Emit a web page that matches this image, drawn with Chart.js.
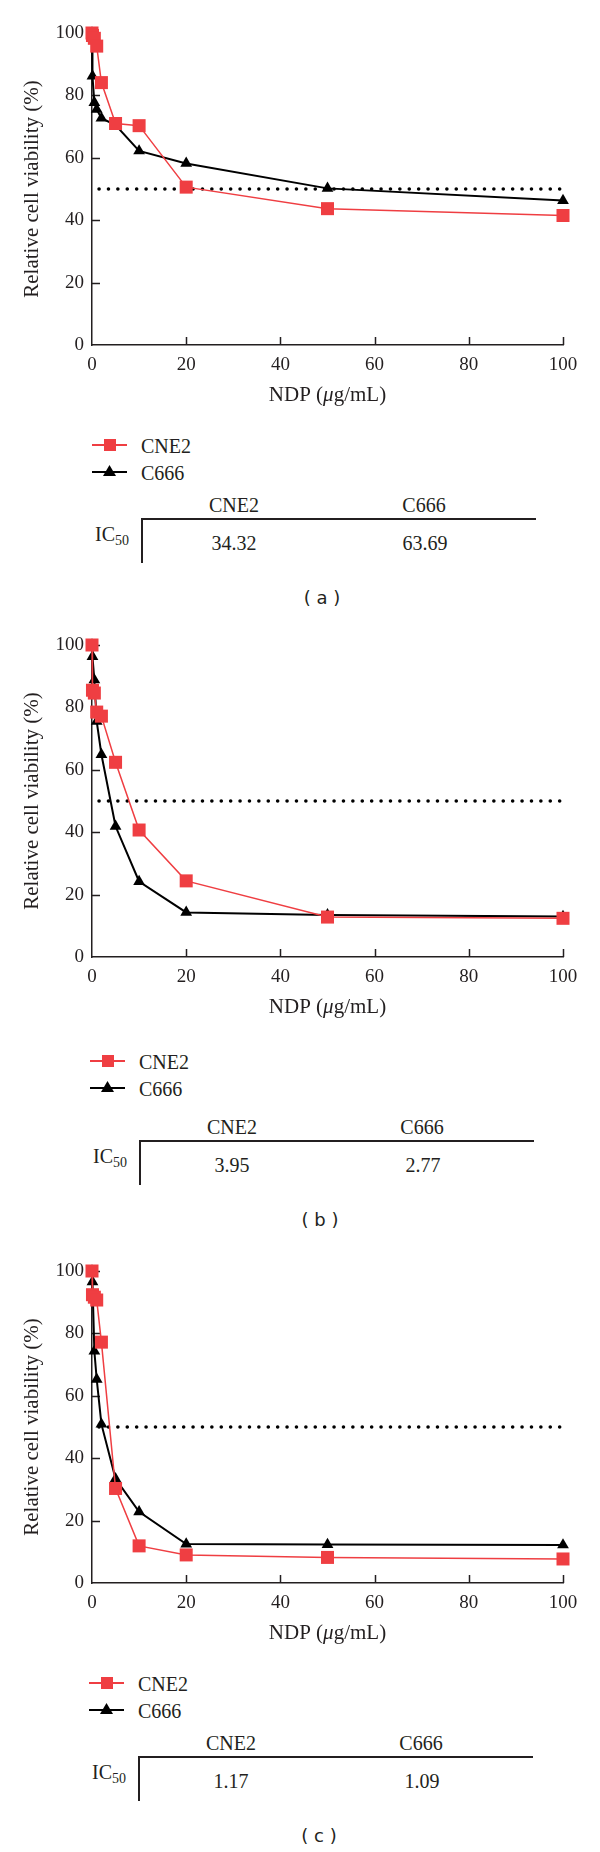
<!DOCTYPE html>
<html>
<head>
<meta charset="utf-8">
<script src="https://cdn.jsdelivr.net/npm/chart.js@4.4.0/dist/chart.umd.min.js"></script>
<style>
  html, body { margin: 0; padding: 0; background: #fff; }
  body { width: 600px; height: 1852px; position: relative; overflow: hidden;
         font-family: "Liberation Serif", "DejaVu Serif", serif; color: #231f20; }
  .panel { position: absolute; left: 0; width: 600px; height: 620px; }
  .panel canvas { position: absolute; left: 0; top: 0; }
  .t { position: absolute; white-space: nowrap; line-height: 1; transform: translate(-50%, -50%); }
  .tl { position: absolute; white-space: nowrap; line-height: 1; transform: translate(0, -50%); }
  .leg { font-size: 20px; }
  .hd { font-size: 20px; }
  .ic sub { font-size: 14px; vertical-align: -4px; }
  .cap { font-family: "DejaVu Sans", sans-serif; font-size: 18px; }
  .hline { position: absolute; height: 2px; background: #231f20; }
  .vline { position: absolute; width: 2px; background: #231f20; }
</style>
</head>
<body>
<div id="wrap"></div>
<script>
// concentrations of NDP (ug/mL)
const doses = [0, 0.1, 0.5, 1, 2, 5, 10, 20, 50, 100];

// panel (a)
const cne2A = [100, 99.2, 98.3, 95.8, 84.1, 71.0, 70.3, 50.6, 43.7, 41.5];
const c666A = [100, 86.2, 77.7, 75.5, 72.7, 70.5, 62.2, 58.2, 50.2, 46.3];
// panel (b)
const cne2B = [100, 85.5, 84.6, 78.5, 77.2, 62.4, 40.7, 24.4, 12.8, 12.4];
const c666B = [100, 96.3, 88.8, 75.5, 64.9, 41.9, 24.2, 14.3, 13.5, 13.0];
// panel (c)
const cne2C = [100, 92.4, 91.6, 90.7, 77.2, 30.3, 11.9, 9.0, 8.2, 7.7];
const c666C = [100, 96.5, 74.3, 65.3, 50.9, 33.4, 22.8, 12.5, 12.3, 12.2];

const ic50Names = ['CNE2', 'C666'];
const ic50A = ['34.32', '63.69'];
const ic50B = ['3.95', '2.77'];
const ic50C = ['1.17', '1.09'];

// 50% reference line
const halfX = [1.5, 100];
const halfY = 50;

const xTicks = [0, 20, 40, 60, 80, 100];
const yTicks = [0, 20, 40, 60, 80, 100];

const RED = '#ef3e42';
const INK = '#231f20';

const innerTicks = {
    id: 'innerTicks',
    beforeDatasetsDraw(chart) {
        const ctx = chart.ctx;
        const { left, bottom } = chart.chartArea;
        const xs = chart.scales.x, ys = chart.scales.y;
        ctx.save();
        ctx.strokeStyle = INK;
        ctx.lineWidth = 1.5;
        ctx.beginPath();
        xTicks.forEach(v => {
            if (v === 0) return;
            const px = Math.round(xs.getPixelForValue(v)) + 0.5;
            ctx.moveTo(px, bottom);
            ctx.lineTo(px, bottom - 8);
        });
        yTicks.forEach(v => {
            if (v === 0) return;
            const py = Math.round(ys.getPixelForValue(v)) + 0.5;
            ctx.moveTo(left, py);
            ctx.lineTo(left + 8, py);
        });
        ctx.stroke();
        ctx.restore();
    },
    afterDraw(chart) {
        // axis titles (mu in italics)
        const ctx = chart.ctx;
        const { left, right, top, bottom } = chart.chartArea;
        ctx.save();
        ctx.fillStyle = INK;
        ctx.textBaseline = 'middle';
        const parts = [['NDP (', ''], ['\u03bc', 'italic '], ['g/mL)', '']];
        let total = 0;
        parts.forEach(p => { ctx.font = p[1] + '21px "Liberation Serif"'; total += ctx.measureText(p[0]).width; });
        let x = (left + right) / 2 - total / 2;
        parts.forEach(p => {
            ctx.font = p[1] + '21px "Liberation Serif"';
            ctx.fillText(p[0], x, bottom + 50);
            x += ctx.measureText(p[0]).width;
        });
        ctx.translate(32, (top + bottom) / 2);
        ctx.rotate(-Math.PI / 2);
        ctx.textAlign = 'center';
        ctx.font = '21px "Liberation Serif"';
        ctx.fillText('Relative cell viability (%)', 0, 0);
        ctx.restore();
    }
};

function makePanel(top, cne2, c666, ic50, letter, legShift, shift, dx) {
    const wrap = document.getElementById('wrap');
    const panel = document.createElement('div');
    panel.className = 'panel';
    panel.style.top = top + 'px';
    wrap.appendChild(panel);

    const canvas = document.createElement('canvas');
    canvas.width = 600;
    canvas.height = 412;
    canvas.style.width = '600px';
    canvas.style.height = '412px';
    panel.appendChild(canvas);

    new Chart(canvas, {
        type: 'line',
        data: {
            datasets: [
                {
                    label: 'CNE2',
                    data: doses.map((d, i) => ({ x: d, y: cne2[i] })),
                    borderColor: RED,
                    backgroundColor: RED,
                    borderWidth: 1.5,
                    pointStyle: 'rect',
                    pointRadius: 9.2,
                    pointBorderWidth: 0,
                    pointBackgroundColor: RED,
                    tension: 0,
                    clip: false
                },
                {
                    label: 'C666',
                    data: doses.map((d, i) => ({ x: d, y: c666[i] })),
                    borderColor: '#000',
                    backgroundColor: '#000',
                    borderWidth: 2,
                    pointStyle: 'triangle',
                    pointRadius: 6.8,
                    pointBorderWidth: 0,
                    pointBackgroundColor: '#000',
                    tension: 0,
                    clip: false
                },
                {
                    label: 'IC50',
                    data: halfX.map(x => ({ x: x, y: halfY })),
                    borderColor: '#000',
                    borderWidth: 3.6,
                    borderDash: [0, 9.4],
                    borderCapStyle: 'round',
                    pointRadius: 0,
                    clip: false
                }
            ]
        },
        options: {
            responsive: false,
            animation: false,
            events: [],
            layout: { padding: { top: 33, right: 37, left: 0, bottom: 0 } },
            plugins: { legend: { display: false }, tooltip: { enabled: false } },
            scales: {
                x: {
                    type: 'linear', min: 0, max: 100,
                    afterBuildTicks: s => { s.ticks = xTicks.map(v => ({ value: v })); },
                    afterFit: s => { s.height = 67; },
                    grid: { display: false, drawTicks: false },
                    border: { display: true, color: INK, width: 1.5 },
                    ticks: { color: INK, padding: 9, maxRotation: 0, font: { family: '"Liberation Serif"', size: 19 } }
                },
                y: {
                    type: 'linear', min: 0, max: 100,
                    afterBuildTicks: s => { s.ticks = yTicks.map(v => ({ value: v })); },
                    afterFit: s => { s.width = 92; },
                    grid: { display: false, drawTicks: false },
                    border: { display: true, color: INK, width: 1.5 },
                    ticks: { color: INK, padding: 8, font: { family: '"Liberation Serif"', size: 19 } }
                }
            }
        },
        plugins: [innerTicks]
    });

    // legend and IC50 table below the plot
    const g = legShift, s = shift;
    const html = `
      <div class="hline" style="left:${92 + dx}px;top:${444 + g}px;width:35px;height:1.5px;background:${RED}"></div>
      <div style="position:absolute;left:${103.5 + dx}px;top:${439 + g}px;width:12px;height:12px;background:${RED}"></div>
      <div class="tl leg" style="left:${141 + dx}px;top:${446 + g}px">CNE2</div>
      <div class="hline" style="left:${92 + dx}px;top:${471 + g}px;width:35px;height:2px;background:#000"></div>
      <svg style="position:absolute;left:${103 + dx}px;top:${465 + g}px" width="13" height="12"><polygon points="6.5,0 13,11 0,11" fill="#000"/></svg>
      <div class="tl leg" style="left:${141 + dx}px;top:${473 + g}px">C666</div>
      <div class="t hd" style="left:${234 + dx}px;top:${505 + s}px">${ic50Names[0]}</div>
      <div class="t hd" style="left:${424 + dx}px;top:${505 + s}px">${ic50Names[1]}</div>
      <div class="hline" style="left:${141 + dx}px;top:${518 + s}px;width:${395}px"></div>
      <div class="vline" style="left:${141 + dx}px;top:${518 + s}px;height:45px"></div>
      <div class="tl hd ic" style="left:${95 + dx}px;top:${536 + s}px">IC<sub>50</sub></div>
      <div class="t hd" style="left:${234 + dx}px;top:${543 + s}px">${ic50[0]}</div>
      <div class="t hd" style="left:${425 + dx}px;top:${543 + s}px">${ic50[1]}</div>
      <div class="t cap" style="left:${322 + dx}px;top:${598 + s}px">( ${letter} )</div>`;
    panel.insertAdjacentHTML('beforeend', html);
}

makePanel(0, cne2A, c666A, ic50A, 'a', 0, 0, 0);
makePanel(612, cne2B, c666B, ic50B, 'b', 4, 10, -2);
makePanel(1238, cne2C, c666C, ic50C, 'c', 0, 0, -3);
</script>
</body>
</html>
